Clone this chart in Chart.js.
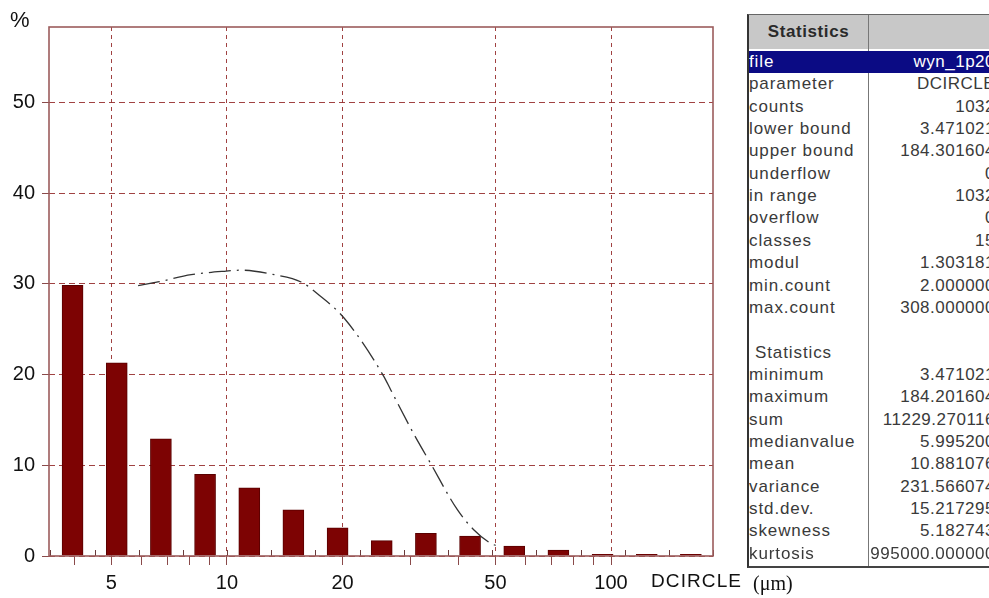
<!DOCTYPE html>
<html><head><meta charset="utf-8">
<script src="https://cdn.jsdelivr.net/npm/chart.js@4.4.1/dist/chart.umd.min.js"></script>
<style>
html,body{margin:0;padding:0;background:#fff;overflow:hidden;width:989px;height:598px;}
#wrap{position:relative;width:989px;height:598px;overflow:hidden;}
#cw{position:absolute;left:0;top:0;width:745px;height:598px;}
.lbl{position:absolute;font-family:"Liberation Sans",Arial,sans-serif;color:#111;white-space:nowrap;line-height:1;}
#stats{position:absolute;left:747px;top:14px;width:248px;height:551px;border-left:2px solid #333;border-top:1px solid #666;border-bottom:2px solid #444;font-family:"Liberation Sans",Arial,sans-serif;font-size:17px;color:#3a3a3a;letter-spacing:0.9px;background:#fff;}
#stats .hdr{position:absolute;left:0;top:0;width:100%;height:34px;background:#c8c8c8;}
#stats .hdr .t{position:absolute;left:0;width:119px;top:0;line-height:34px;text-align:center;font-weight:bold;color:#2a2a2a;letter-spacing:0.6px;}
#stats .div{position:absolute;left:119px;top:0;width:1px;height:100%;background:#777;z-index:1;}
#stats .row{position:absolute;left:0;width:100%;height:22.35px;line-height:22.35px;white-space:nowrap;}
#stats .row .k{position:absolute;left:0px;top:0;}
#stats .row .v{position:absolute;right:2px;top:0;letter-spacing:0.5px;}
#stats .row.sel{background:#0b0b84;color:#fff;z-index:2;}
</style>
</head><body>
<div id="wrap">
  <div id="cw"><canvas id="c" width="745" height="598"></canvas></div>
  <div class="lbl" style="left:10px;top:9px;font-size:22px;">%</div>
  <div class="lbl" style="left:651px;top:571px;font-size:19px;letter-spacing:1.1px;">DCIRCLE</div>
  <div class="lbl" style="left:753px;top:573px;font-size:20px;font-family:'Liberation Serif','Times New Roman',serif;">(μm)</div>
  <div id="stats"></div>
</div>
<script>
// ---- data ----
const binCenters = [3.962, 5.164, 6.729, 8.769, 11.43, 14.89, 19.41, 25.29, 32.96, 42.95, 55.98, 72.95, 95.06, 123.9, 161.4];
const percent    = [29.84, 21.3, 12.9, 9.0, 7.5, 5.1, 3.1, 1.7, 2.5, 2.2, 1.1, 0.65, 0.19, 0.19, 0.19];
const binEdges   = [3.471, 4.523, 5.895, 7.682, 10.01, 13.05, 17.00, 22.16, 28.87, 37.63, 49.04, 63.90, 83.28, 108.5, 141.4, 184.3];
const curveX = [5.87, 6.61, 8.07, 9.95, 10.9, 13.3, 15.6, 17.2, 20.2, 25.6, 26.7, 30.6, 33.9, 39.8, 43.9, 48.6, 51.6];
const curveY = [29.8, 30.2, 31.0, 31.4, 31.5, 31.0, 30.2, 28.9, 26.2, 19.8, 18.3, 13.5, 10.2, 5.1, 2.9, 1.4, 1.0];
const xTickValues = [4, 5, 6, 7, 8, 9, 10, 20, 30, 40, 50, 60, 70, 80, 90, 100];
const xTickLabels = [5, 10, 20, 50, 100];
const yTickValues = [0, 10, 20, 30, 40, 50];
const xMin = 3.44, xMax = 184.301604;
const statKeys = ["file","parameter","counts","lower bound","upper bound","underflow","in range","overflow","classes","modul","min.count","max.count","","  Statistics","minimum","maximum","sum","medianvalue","mean","variance","std.dev.","skewness","kurtosis"];
const statVals = ["wyn_1p20","DCIRCLE","1032","3.471021","184.301604","0","1032","0","15","1.303181","2.000000","308.000000","","","3.471021","184.201604","11229.270116","5.995200","10.881076","231.566074","15.217295","5.182743","995000.000000"];

// ---- stats table ----
const st = document.getElementById('stats');
let html = '<div class="hdr"><div class="t">Statistics</div></div><div class="div"></div>';
statKeys.forEach((k,i)=>{
  const top = 36 + i*22.35;
  const sel = i===0 ? ' sel' : '';
  const kk = k.trim()==='Statistics' ? '<span style="padding-left:6px">Statistics</span>' : k;
  html += `<div class="row${sel}" style="top:${top}px"><span class="k">${kk}</span><span class="v">${statVals[i]}</span></div>`;
});
st.innerHTML = html;

// ---- chart ----
const gridCol = 'rgba(150,45,45,0.9)';
const font = {family:"'Liberation Sans', Arial, sans-serif", size:20};
const framePlugin = {
  id:'frame',
  afterDatasetsDraw(chart){
    const {ctx, chartArea:a, scales:{x}} = chart;
    ctx.save();
    ctx.setLineDash([]);
    ctx.strokeStyle = '#6a3a3a'; ctx.lineWidth = 1;
    binEdges.forEach(e=>{
      const px = Math.round(x.getPixelForValue(e))+0.5;
      ctx.beginPath(); ctx.moveTo(px, a.bottom); ctx.lineTo(px, a.bottom-6); ctx.stroke();
    });
    ctx.strokeStyle = '#9c5c5c'; ctx.lineWidth = 1.6;
    ctx.strokeRect(a.left, a.top, a.right-a.left, a.bottom-a.top);
    ctx.restore();
  }
};
new Chart(document.getElementById('c'), {
  type:'bar',
  data:{datasets:[
    {type:'bar', data: binCenters.map((x,i)=>({x, y:percent[i]})), backgroundColor:'#7d0303', borderColor:'#5a0000', borderWidth:1, barThickness:21, order:2},
    {type:'line', data: curveX.map((x,i)=>({x, y:curveY[i]})), borderColor:'#333', borderWidth:1.3, borderDash:[22,6,2,6], pointRadius:0, fill:false, cubicInterpolationMode:'monotone', order:1}
  ]},
  options:{
    responsive:false, animation:false,
    layout:{padding:{top:27, right:32, left:0, bottom:0}},
    plugins:{legend:{display:false}, tooltip:{enabled:false}},
    scales:{
      x:{type:'logarithmic', min:xMin, max:xMax, offset:false,
        afterBuildTicks: s=>{ s.ticks = xTickValues.map(v=>({value:v})); },
        afterFit: s=>{ s.height = 42; },
        grid:{offset:false, lineWidth:1, tickLength:9, tickColor:'#8a4a4a',
          color: c => (c.tick && xTickLabels.includes(c.tick.value)) ? gridCol : 'rgba(0,0,0,0)'},
        border:{display:false, dash:[4,4]},
        ticks:{autoSkip:false, maxRotation:0, minRotation:0, padding:6, color:'#111', font,
          callback: v => xTickLabels.includes(v) ? String(v) : ''}
      },
      y:{type:'linear', min:0, max:58.3,
        afterBuildTicks: s=>{ s.ticks = yTickValues.map(v=>({value:v})); },
        afterFit: s=>{ s.width = 49; },
        grid:{color:gridCol, lineWidth:1, tickLength:7, tickColor:'#8a4a4a'},
        border:{display:false, dash:[6,4]},
        ticks:{padding:7, color:'#111', font, callback: v => String(v)}
      }
    }
  },
  plugins:[framePlugin]
});
</script>
</body></html>
